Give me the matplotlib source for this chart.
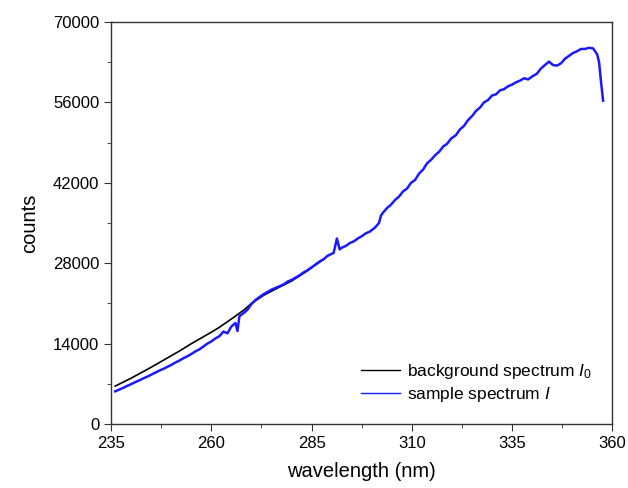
import numpy as np
import matplotlib
matplotlib.use("Agg")
import matplotlib.pyplot as plt
from matplotlib.ticker import FixedLocator

plt.rcParams['font.family'] = ['Liberation Sans', 'DejaVu Sans']
plt.rcParams['mathtext.fontset'] = 'custom'
plt.rcParams['mathtext.it'] = 'Liberation Sans:italic'
plt.rcParams['mathtext.rm'] = 'Liberation Sans'

# background spectrum I0 (black)
wl_bg = [236, 238, 240, 242, 245, 248, 250, 252, 255, 258, 260, 262, 265, 268,
         270, 273, 276, 280, 284, 288]
cnt_bg = [6600, 7300, 8000, 8750, 9900, 11100, 11900, 12700, 14000, 15200,
          16000, 16850, 18300, 19800, 21000, 22400, 23500, 24900, 26700, 28700]

# sample spectrum I (blue)
wl_s = [236, 237, 238, 239, 240, 241, 242, 243, 244, 245, 246, 247, 248, 249,
        250, 251, 252, 253, 254, 255, 256, 257, 258, 259, 260, 261, 262, 263,
        264, 265, 266, 266.5, 267, 268, 269, 270, 271, 272, 273, 274, 275, 276,
        277, 278, 279, 280, 281, 282, 283, 284, 285, 286, 287, 288, 289,
        290.5, 291.3, 292.0, 292.5, 293.5, 294.5, 295.5, 296.5, 297.5, 298.5, 299.5,
        300.8, 301.8, 302.3, 302.8, 303.8, 304.8, 305.8, 306.8, 307.8, 308.8,
        309.8, 310.8, 311.8, 312.8, 313.8, 314.8, 315.8, 316.8, 317.8, 318.8, 319.8,
        321, 322, 323, 324, 325, 326, 327, 328, 329, 330, 331, 332, 333, 334,
        335, 336, 337, 338, 339, 340,
        341.2, 342.2, 343.2, 344.2, 345.2, 346.2, 347.2, 348.2, 349.2, 350.2,
        351.2, 352.2, 353.2, 354.2, 355.2, 356.2, 356.7, 357.2, 357.7]
cnt_s = [5700, 6000, 6300, 6650, 6950, 7300, 7600, 7950, 8250, 8600, 8950, 9300,
         9600, 9950, 10300, 10700, 11050, 11450, 11800, 12200, 12650, 13000,
         13500, 14000, 14400, 14900, 15300, 16100, 15800, 17000, 17600, 16200,
         18800, 19300, 19900, 20900, 21600, 22100, 22600, 23000, 23400, 23700,
         24000, 24300, 24800, 25100, 25500, 25900, 26400, 26800, 27300, 27800,
         28300, 28700, 29300, 29800, 32300, 30400, 30700, 31000, 31500, 31800,
         32300, 32700, 33200, 33500, 34200, 35000, 36300, 36800, 37600, 38200,
         39000, 39600, 40500, 41000, 42000, 42500, 43600, 44300, 45400, 46000,
         46800, 47400, 48300, 48800, 49700, 50300, 51300, 51900, 52900, 53600,
         54500, 55100, 56000, 56400, 57200, 57400, 58100, 58300, 58800, 59100,
         59500, 59800, 60200, 60000, 60500, 61000, 61900, 62500, 63100, 62500,
         62400, 62800, 63600, 64100, 64600, 64900, 65300, 65300, 65500, 65400,
         64400, 63000, 59500, 56300]

xticks = [235, 260, 285, 310, 335, 360]
yticks = [0, 14000, 28000, 42000, 56000, 70000]

fig, ax = plt.subplots(figsize=(6.28, 4.88), dpi=100)
fig.subplots_adjust(left=0.177, right=0.975, bottom=0.131, top=0.955)

ax.plot(wl_bg, cnt_bg, color='black', lw=1.2, label='background spectrum $\\mathit{I}_{\\mathit{0}}$')
ax.plot(wl_s, cnt_s, color='#1a1aff', lw=1.8, label='sample spectrum $\\mathit{I}$')

ax.set_xlim(235, 360)
ax.set_ylim(0, 70000)
ax.xaxis.set_major_locator(FixedLocator(xticks))
ax.xaxis.set_minor_locator(FixedLocator(np.array(xticks[:-1]) + 12.5))
ax.yaxis.set_major_locator(FixedLocator(yticks))
ax.yaxis.set_minor_locator(FixedLocator(np.array(yticks[:-1]) + 7000))
ax.tick_params(which='major', direction='out', length=5, labelsize=12, color='#333333')
ax.tick_params(which='minor', direction='out', length=3, color='#333333')
for s in ax.spines.values():
    s.set_color('#333333')
    s.set_linewidth(1.0)

ax.set_xlabel('wavelength (nm)', fontsize=14.5, labelpad=8)
ax.set_ylabel('counts', fontsize=14.5, labelpad=10)

leg = ax.legend(loc='lower right', frameon=False, fontsize=12.5, handlelength=2.3,
                handletextpad=0.35, labelspacing=0.2, bbox_to_anchor=(0.99, 0.012))
for h in leg.get_lines():
    h.set_linewidth(1.0)

fig.savefig('out.png')
